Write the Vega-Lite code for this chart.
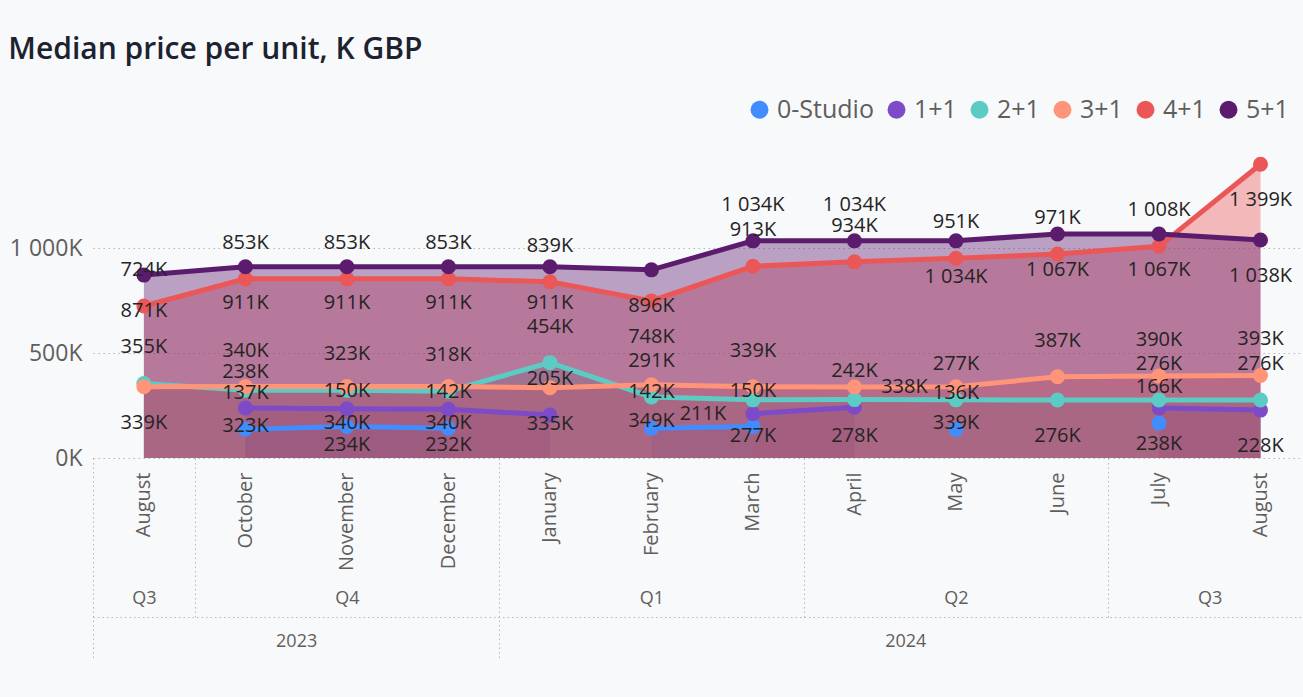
{
  "$schema": "https://vega.github.io/schema/vega-lite/v6.json",
  "width": 1210,
  "height": 315,
  "autosize": {"type": "none"},
  "padding": {"left": 93, "top": 143, "right": 0, "bottom": 239},
  "background": "#f8f9fb",
  "title": {
    "text": "Median price per unit, K GBP",
    "anchor": "start",
    "frame": "bounds",
    "font": "Open Sans",
    "fontSize": 30,
    "fontWeight": 600,
    "color": "#1c2230",
    "offset": 32,
    "dx": -1
  },
  "config": {"view": {"stroke": null}, "font": "Open Sans"},
  "data": {
    "values": [
      {"m": "2023-10", "s": "0-Studio", "v": 137},
      {"m": "2023-11", "s": "0-Studio", "v": 150},
      {"m": "2023-12", "s": "0-Studio", "v": 142},
      {"m": "2024-01", "s": "0-Studio", "v": null},
      {"m": "2024-02", "s": "0-Studio", "v": 142},
      {"m": "2024-03", "s": "0-Studio", "v": 150},
      {"m": "2024-04", "s": "0-Studio", "v": null},
      {"m": "2024-05", "s": "0-Studio", "v": 136},
      {"m": "2024-06", "s": "0-Studio", "v": null},
      {"m": "2024-07", "s": "0-Studio", "v": 166},
      {"m": "2023-10", "s": "1+1", "v": 238},
      {"m": "2023-11", "s": "1+1", "v": 234},
      {"m": "2023-12", "s": "1+1", "v": 232},
      {"m": "2024-01", "s": "1+1", "v": 205},
      {"m": "2024-02", "s": "1+1", "v": null},
      {"m": "2024-03", "s": "1+1", "v": 211},
      {"m": "2024-04", "s": "1+1", "v": 242},
      {"m": "2024-05", "s": "1+1", "v": null},
      {"m": "2024-06", "s": "1+1", "v": null},
      {"m": "2024-07", "s": "1+1", "v": 238},
      {"m": "2024-08", "s": "1+1", "v": 228},
      {"m": "2023-08", "s": "2+1", "v": 355},
      {"m": "2023-10", "s": "2+1", "v": 323},
      {"m": "2023-11", "s": "2+1", "v": 323},
      {"m": "2023-12", "s": "2+1", "v": 318},
      {"m": "2024-01", "s": "2+1", "v": 454},
      {"m": "2024-02", "s": "2+1", "v": 291},
      {"m": "2024-03", "s": "2+1", "v": 277},
      {"m": "2024-04", "s": "2+1", "v": 278},
      {"m": "2024-05", "s": "2+1", "v": 277},
      {"m": "2024-06", "s": "2+1", "v": 276},
      {"m": "2024-07", "s": "2+1", "v": 276},
      {"m": "2024-08", "s": "2+1", "v": 276},
      {"m": "2023-08", "s": "3+1", "v": 339},
      {"m": "2023-10", "s": "3+1", "v": 340},
      {"m": "2023-11", "s": "3+1", "v": 340},
      {"m": "2023-12", "s": "3+1", "v": 340},
      {"m": "2024-01", "s": "3+1", "v": 335},
      {"m": "2024-02", "s": "3+1", "v": 349},
      {"m": "2024-03", "s": "3+1", "v": 339},
      {"m": "2024-04", "s": "3+1", "v": 338},
      {"m": "2024-05", "s": "3+1", "v": 339},
      {"m": "2024-06", "s": "3+1", "v": 387},
      {"m": "2024-07", "s": "3+1", "v": 390},
      {"m": "2024-08", "s": "3+1", "v": 393},
      {"m": "2023-08", "s": "4+1", "v": 724},
      {"m": "2023-10", "s": "4+1", "v": 853},
      {"m": "2023-11", "s": "4+1", "v": 853},
      {"m": "2023-12", "s": "4+1", "v": 853},
      {"m": "2024-01", "s": "4+1", "v": 839},
      {"m": "2024-02", "s": "4+1", "v": 748},
      {"m": "2024-03", "s": "4+1", "v": 913},
      {"m": "2024-04", "s": "4+1", "v": 934},
      {"m": "2024-05", "s": "4+1", "v": 951},
      {"m": "2024-06", "s": "4+1", "v": 971},
      {"m": "2024-07", "s": "4+1", "v": 1008},
      {"m": "2024-08", "s": "4+1", "v": 1399},
      {"m": "2023-08", "s": "5+1", "v": 871},
      {"m": "2023-10", "s": "5+1", "v": 911},
      {"m": "2023-11", "s": "5+1", "v": 911},
      {"m": "2023-12", "s": "5+1", "v": 911},
      {"m": "2024-01", "s": "5+1", "v": 911},
      {"m": "2024-02", "s": "5+1", "v": 896},
      {"m": "2024-03", "s": "5+1", "v": 1034},
      {"m": "2024-04", "s": "5+1", "v": 1034},
      {"m": "2024-05", "s": "5+1", "v": 1034},
      {"m": "2024-06", "s": "5+1", "v": 1067},
      {"m": "2024-07", "s": "5+1", "v": 1067},
      {"m": "2024-08", "s": "5+1", "v": 1038}
    ]
  },
  "transform": [
    {"calculate": "datum.m + '|' + datum.s", "as": "key"},
    {"calculate": "isValid(datum.v) ? replace(format(datum.v, ','), ',', ' ') + 'K' : ''", "as": "label"}
  ],
  "resolve": {"axis": {"x": "independent"}},
  "layer": [
    {
      "mark": {"type": "area", "opacity": 0.4},
      "encoding": {
        "x": {
          "field": "m", "type": "ordinal",
          "scale": {"type": "point", "padding": 0.46, "align": 0.545},
          "axis": {
            "orient": "bottom", "title": null, "labelAngle": -90,
            "labelExpr": "timeFormat(datetime(toNumber(substring(datum.value,0,4)), toNumber(substring(datum.value,5,7))-1, 15), '%B')",
            "labelFont": "Open Sans", "labelFontSize": 20, "labelColor": "#605E5C",
            "ticks": false, "tickSize": 0, "domain": false, "grid": false, "labelPadding": 14
          }
        },
        "y": {
          "field": "v", "type": "quantitative", "stack": null,
          "scale": {"domain": [0, 1500], "nice": false},
          "axis": {
            "title": null, "values": [0, 500, 1000],
            "labelExpr": "replace(format(datum.value, ','), ',', ' ') + 'K'",
            "labelFont": "Open Sans", "labelFontSize": 23, "labelColor": "#605E5C",
            "grid": true, "gridDash": [1.5, 3.5], "gridColor": "#b9b7b5", "gridWidth": 1,
            "domain": false, "ticks": false, "tickSize": 0, "labelPadding": 11
          }
        },
        "color": {
          "field": "s", "type": "nominal",
          "scale": {
            "domain": ["0-Studio", "1+1", "2+1", "3+1", "4+1", "5+1"],
            "range": ["#418CFF", "#7E4BC8", "#5CCBC3", "#FF9478", "#EB5757", "#5C1C6E"]
          },
          "legend": {
            "orient": "none", "legendX": 654, "legendY": -46, "direction": "horizontal",
            "title": null, "symbolType": "circle", "symbolSize": 324, "symbolOpacity": 1,
            "symbolStrokeWidth": 0, "labelFont": "Open Sans", "labelFontSize": 25,
            "labelColor": "#605E5C", "columnPadding": 10, "labelOffset": 5
          }
        }
      }
    },
    {
      "mark": {"type": "line", "strokeWidth": 5},
      "encoding": {
        "x": {
          "field": "m", "type": "ordinal",
          "axis": {
            "orient": "bottom", "title": null, "labelAngle": 0,
            "values": ["2023-08", "2023-11", "2024-02", "2024-05", "2024-07"],
            "labelExpr": "'Q' + (floor((toNumber(substring(datum.value,5,7))-1)/3)+1)",
            "labelOffset": {"condition": {"test": "datum.value == '2024-07'", "value": 50.75}, "value": 0},
            "labelFont": "Open Sans", "labelFontSize": 18, "labelColor": "#605E5C",
            "ticks": false, "tickSize": 0, "domain": false, "grid": false, "labelPadding": 131
          }
        },
        "y": {"field": "v", "type": "quantitative", "stack": null},
        "color": {"field": "s", "type": "nominal"}
      }
    },
    {
      "mark": {"type": "point", "filled": true, "size": 225, "opacity": 1},
      "encoding": {
        "x": {
          "field": "m", "type": "ordinal",
          "axis": {
            "orient": "bottom", "title": null, "labelAngle": 0, "offset": 159,
            "values": ["2023-10", "2024-04"],
            "labelExpr": "substring(datum.value,0,4)",
            "labelOffset": 50.75,
            "labelFont": "Open Sans", "labelFontSize": 18, "labelColor": "#605E5C",
            "ticks": false, "tickSize": 0, "domain": true, "domainDash": [1.5, 3],
            "domainColor": "#b9b7b5", "domainWidth": 1, "grid": false, "labelPadding": 15
          }
        },
        "y": {"field": "v", "type": "quantitative", "stack": null},
        "color": {"field": "s", "type": "nominal"}
      }
    },
    {
      "transform": [
        {"filter": "isValid(datum.v)"},
        {"filter": "indexof(['2023-08|5+1','2023-08|3+1','2023-10|5+1','2023-10|2+1','2023-11|5+1','2023-11|3+1','2023-11|1+1','2023-12|5+1','2023-12|3+1','2023-12|1+1','2024-01|5+1','2024-01|3+1','2024-02|5+1','2024-02|4+1','2024-02|3+1','2024-03|2+1','2024-04|2+1','2024-05|5+1','2024-05|3+1','2024-06|5+1','2024-06|2+1','2024-07|5+1','2024-07|1+1','2024-08|4+1','2024-08|5+1','2024-08|1+1','2024-03|1+1','2024-04|3+1'], datum.key) < 0"}
      ],
      "mark": {"type": "text", "font": "Open Sans", "fontSize": 20, "color": "#252423", "baseline": "middle", "dy": -36},
      "encoding": {
        "x": {
          "field": "m", "type": "ordinal",
          "axis": {
            "orient": "bottom", "title": null, "labels": false, "domain": false, "grid": false,
            "values": ["2023-10", "2024-04", "2024-07"],
            "ticks": true, "tickSize": 159, "tickOffset": -50.75, "tickDash": [1.5, 3],
            "tickColor": "#b9b7b5", "tickWidth": 1
          }
        },
        "y": {"field": "v", "type": "quantitative", "stack": null},
        "text": {"field": "label"}
      }
    },
    {
      "transform": [
        {"filter": "indexof(['2023-08|5+1','2023-08|3+1','2023-10|5+1','2023-10|2+1','2023-11|5+1','2023-11|3+1','2023-11|1+1','2023-12|5+1','2023-12|3+1','2023-12|1+1','2024-01|5+1','2024-01|3+1','2024-02|5+1','2024-02|4+1','2024-02|3+1','2024-03|2+1','2024-04|2+1','2024-05|5+1','2024-05|3+1','2024-06|5+1','2024-06|2+1','2024-07|5+1','2024-07|1+1','2024-08|4+1','2024-08|5+1','2024-08|1+1'], datum.key) >= 0"}
      ],
      "mark": {"type": "text", "font": "Open Sans", "fontSize": 20, "color": "#252423", "baseline": "middle", "dy": 36},
      "encoding": {
        "x": {
          "field": "m", "type": "ordinal",
          "axis": {
            "orient": "bottom", "title": null, "labels": false, "domain": false, "grid": false,
            "values": ["2023-08", "2024-01"],
            "ticks": true, "tickSize": 202, "tickOffset": -50.75, "tickDash": [1.5, 3],
            "tickColor": "#b9b7b5", "tickWidth": 1
          }
        },
        "y": {"field": "v", "type": "quantitative", "stack": null},
        "text": {"field": "label"}
      }
    },
    {
      "transform": [{"filter": "datum.key == '2024-03|1+1'"}],
      "mark": {"type": "text", "font": "Open Sans", "fontSize": 20, "color": "#252423", "baseline": "middle", "dx": -50},
      "encoding": {
        "x": {"field": "m", "type": "ordinal", "axis": null},
        "y": {"field": "v", "type": "quantitative", "stack": null},
        "text": {"field": "label"}
      }
    },
    {
      "transform": [{"filter": "datum.key == '2024-04|3+1'"}],
      "mark": {"type": "text", "font": "Open Sans", "fontSize": 20, "color": "#252423", "baseline": "middle", "dx": 50},
      "encoding": {
        "x": {"field": "m", "type": "ordinal", "axis": null},
        "y": {"field": "v", "type": "quantitative", "stack": null},
        "text": {"field": "label"}
      }
    }
  ]
}
